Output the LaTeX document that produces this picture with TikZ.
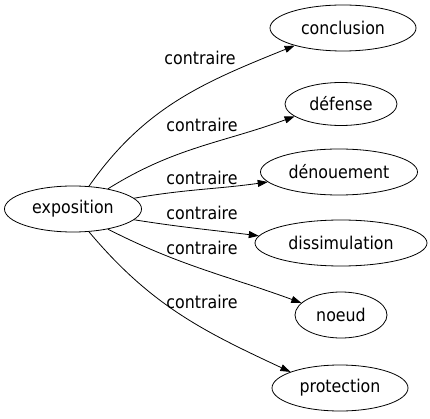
\documentclass[tikz,border=0pt]{standalone}
\usepackage{fontspec}
\setmainfont{DejaVu Sans Condensed}
\usetikzlibrary{arrows.meta, shapes.geometric}
\tikzset{
  arrowK/.style={-{Triangle[length=10pt, width=7pt]}, black, line width=0.8pt},
  boxE/.style={ellipse, draw=black, line width=0.8pt, minimum height=46pt,
               inner sep=0pt, font=\fontsize{17.6}{19}\selectfont},
  lblC/.style={inner sep=0pt, font=\fontsize{17.6}{19}\selectfont},
}

\begin{document}
\begin{tikzpicture}[x=1pt, y=1pt]
    \useasboundingbox (0,0) rectangle (430,-419);
    \node[boxE, minimum width=137pt] (expo) at (73,-209) {exposition};
    \node[boxE, minimum width=146pt] (conc) at (343,-28) {conclusion};
    \node[boxE, minimum width=112pt, minimum height=43pt] (defe) at (341,-104) {défense};
    \node[boxE, minimum width=157pt] (deno) at (339,-172) {dénouement};
    \node[boxE, minimum width=172pt] (diss) at (341,-243) {dissimulation};
    \node[boxE, minimum width=92pt] (noeu) at (341,-315) {noeud};
    \node[boxE, minimum width=136pt] (prot) at (340,-388) {protection};
    % labels
    \node[lblC] (c1) at (200,-58) {contraire};
    \node[lblC] (c2) at (202,-125) {contraire};
    \node[lblC] (c3) at (202,-178) {contraire};
    \node[lblC] (c4) at (202,-213) {contraire};
    \node[lblC] (c5) at (202,-248) {contraire};
    \node[lblC] (c6) at (202,-302) {contraire};
    % edges
    \draw[arrowK] (expo.55) to[out=55, in=202] (conc.200);
    \draw[arrowK] (expo.30) to[out=32, in=200] (defe.195);
    \draw[arrowK] (expo.10) to[out=10, in=188] (deno.188);
    \draw[arrowK] (expo.-10) to[out=-9, in=173] (diss.175);
    \draw[arrowK] (expo.-30) to[out=-27, in=160] (noeu.163);
    \draw[arrowK] (expo.-55) to[out=-50, in=155] (prot.162);
\end{tikzpicture}
\end{document}
